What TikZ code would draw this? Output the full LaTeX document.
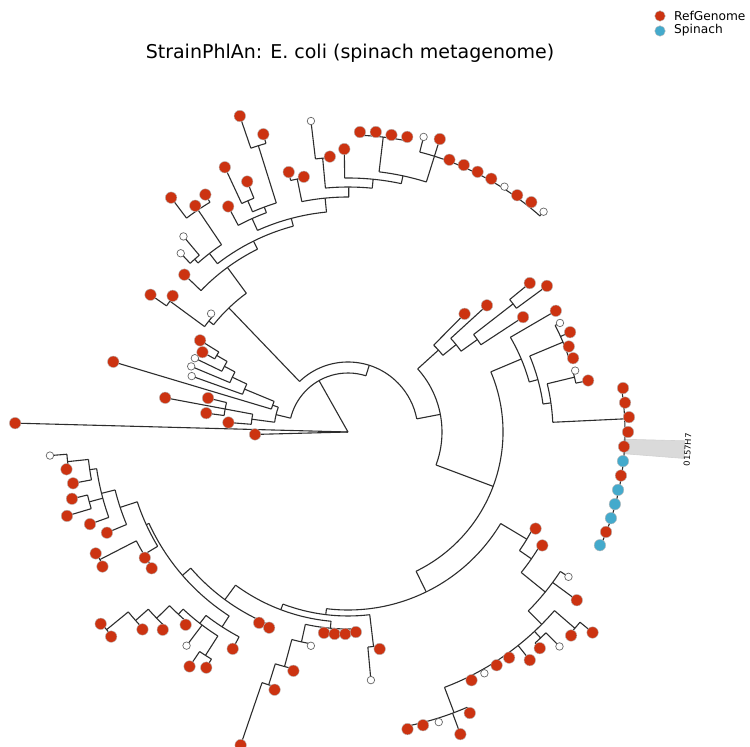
\documentclass[tikz,border=0pt]{standalone}
\usepackage{fontspec}
\setmainfont{DejaVu Sans}
\definecolor{refred}{RGB}{204,51,17}
\definecolor{spblue}{RGB}{68,170,204}
\definecolor{brc}{RGB}{45,45,45}
\definecolor{wedgec}{RGB}{218,218,218}
\pgfdeclarelayer{backlayer}
\pgfdeclarelayer{wedgelayer}
\pgfdeclarelayer{bg}
\pgfsetlayers{backlayer,wedgelayer,bg,main}
\tikzset{
  br/.style={draw=brc, line width=1.1pt},
  rleaf/.style={circle, fill=refred, draw=gray!55, line width=0.4pt, minimum size=11.5pt, inner sep=0pt},
  bleaf/.style={circle, fill=spblue, draw=gray!55, line width=0.4pt, minimum size=11.5pt, inner sep=0pt},
  oleaf/.style={circle, fill=white, draw=gray!80!black, line width=0.7pt, minimum size=7.5pt, inner sep=0pt},
}
\newcommand\angu{3.025}
\newcommand\nd[5]{%
 \begin{pgfonlayer}{bg}
 \draw[br] ({(#1)*\angu}:#2) -- ({(#1)*\angu}:#3);
 \draw[br] ({(#4)*\angu}:#3) arc[start angle={(#4)*\angu}, end angle={(#5)*\angu}, radius=#3];
 \end{pgfonlayer}}
\newcommand\lf[4]{%
 \begin{pgfonlayer}{bg}\draw[br] ({(#2)*\angu}:#3) -- ({(#2)*\angu}:#4);\end{pgfonlayer}
 \node[#1] (leaf#2) at ({(#2)*\angu}:#4) {};}
\begin{document}
\begin{tikzpicture}[x=1pt,y=1pt]
\begin{pgfonlayer}{backlayer}
\fill[white] (0,0) rectangle (750,747);
\end{pgfonlayer}
\useasboundingbox (0,0) rectangle (750,747);
\node[font=\fontsize{19}{22}\selectfont] (title) at (350,694) {StrainPhlAn: E. coli (spinach metagenome)};
\node[rleaf, minimum size=10.5pt] (legr) at (660,731) {};
\node[bleaf, minimum size=10.5pt] (legb) at (660,716) {};
\node[anchor=west, inner sep=0pt, font=\fontsize{12.2}{14}\selectfont] (legrt) at (674,731.5) {RefGenome};
\node[anchor=west, inner sep=0pt, font=\fontsize{12.2}{14}\selectfont] (legbt) at (674,716.5) {Spinach};
\begin{scope}[shift={(348,315)}]
% wedge
\begin{pgfonlayer}{wedgelayer}
\filldraw[fill=wedgec, draw=gray!35, line width=0.6pt] (-1.5:276) -- (-1.5:337) arc[start angle=-1.5, end angle=-4.5, radius=337] -- (-4.5:276) arc[start angle=-4.5, end angle=-1.5, radius=276] -- cycle;
\end{pgfonlayer}
\node[rotate=87, font=\fontsize{8.3}{10}\selectfont, inner sep=0pt] (clade) at (-3:340) {0157H7};
% root
\lf{rleaf}{60}{0}{93}
\lf{rleaf}{59}{0}{333}
\nd{39.47}{0}{59}{55.02}{23.91}
% A1
\nd{55.02}{59}{74}{53.03}{57}
\nd{57}{74}{97}{56}{58}
\nd{56}{97}{125}{55}{57}
\lf{rleaf}{55}{125}{144}
\lf{rleaf}{56}{125}{186}
\lf{rleaf}{57}{125}{143}
\lf{rleaf}{58}{97}{120}
\nd{53.03}{74}{80}{52.06}{54}
\lf{rleaf}{54}{80}{245}
\nd{52.06}{80}{112}{51.125}{53}
\lf{oleaf}{53}{112}{166}
\nd{51.125}{112}{128}{50.25}{52}
\lf{oleaf}{52}{128}{170}
\nd{50.25}{128}{140}{49.5}{51}
\lf{oleaf}{51}{140}{170}
\nd{49.5}{140}{152}{49}{50}
\lf{rleaf}{49}{152}{174}
\lf{rleaf}{50}{152}{166}
% B
\nd{23.91}{59}{70}{44.24}{3.575}
\nd{44.24}{70}{172}{46.75}{41.73}
\nd{46.75}{172}{178}{46}{47.5}
\lf{oleaf}{46}{178}{181}
\nd{47.5}{178}{221}{47}{48}
\lf{rleaf}{47}{221}{222}
\lf{rleaf}{48}{221}{240.5}
\nd{41.73}{172}{204}{45}{38.46}
\lf{rleaf}{45}{204}{227}
\nd{38.46}{204}{213}{42.25}{34.67}
\nd{42.25}{213}{226}{43.5}{41}
\nd{43.5}{226}{231}{43}{44}
\lf{oleaf}{43}{231}{255.6}
\lf{oleaf}{44}{231}{244.8}
\nd{41}{226}{268}{40}{42}
\lf{rleaf}{40}{268}{277}
\lf{rleaf}{41}{268}{273}
\lf{rleaf}{42}{268}{293.6}
\nd{34.67}{213}{221}{37.75}{31.6}
\nd{37.75}{221}{234}{39}{36.5}
\lf{rleaf}{39}{234}{255.4}
\nd{36.5}{234}{240}{37.5}{35.5}
\nd{37.5}{240}{252}{37}{38}
\lf{rleaf}{37}{252}{270}
\lf{rleaf}{38}{252}{292}
\nd{35.5}{240}{300}{35}{36}
\lf{rleaf}{35}{300}{309.6}
\lf{rleaf}{36}{300}{334}
\nd{31.6}{221}{235}{33.5}{29.69}
\nd{33.5}{235}{258}{33}{34}
\lf{rleaf}{33}{258}{259}
\lf{rleaf}{34}{258}{266.6}
\nd{29.69}{235}{245}{31.5}{27.875}
\nd{31.5}{245}{275}{31}{32}
\lf{rleaf}{31}{275}{276}
\lf{oleaf}{32}{275}{313.2}
\nd{27.875}{245}{254}{30}{25.75}
\lf{rleaf}{30}{254}{283}
\nd{25.75}{254}{262}{27.5}{24}
\nd{27.5}{262}{297}{26}{29}
\lf{rleaf}{26}{297}{301}
\lf{rleaf}{27}{297}{300.2}
\lf{rleaf}{28}{297}{301.3}
\lf{rleaf}{29}{297}{300.2}
\nd{24}{262}{289}{25}{16}
\lf{oleaf}{25}{289}{304.6}
\lf{rleaf}{24}{289}{307}
\lf{rleaf}{23}{289}{290.5}
\lf{rleaf}{22}{289}{291}
\lf{rleaf}{21}{289}{290.7}
\lf{rleaf}{20}{289}{291}
\lf{oleaf}{19}{289}{291}
\lf{rleaf}{18}{289}{291}
\lf{rleaf}{17}{289}{294}
\lf{oleaf}{16}{289}{294.6}
% B2
\nd{3.575}{70}{94}{13.94}{-6.79}
\nd{13.94}{94}{122}{15}{12.875}
\lf{rleaf}{15}{122}{166}
\nd{12.875}{122}{139}{14}{11.75}
\lf{rleaf}{14}{139}{188}
\nd{11.75}{139}{159}{12.5}{11}
\nd{12.5}{159}{209}{13}{12}
\lf{rleaf}{13}{209}{235}
\lf{rleaf}{12}{209}{246.8}
\lf{rleaf}{11}{159}{209.4}
\nd{-6.79}{94}{155}{7.55}{-21.13}
\nd{7.55}{155}{188}{10}{5.1}
\lf{rleaf}{10}{188}{240.6}
\nd{5.1}{188}{197}{7.5}{2.7}
\nd{7.5}{197}{233}{9}{6}
\lf{oleaf}{9}{233}{238.4}
\lf{rleaf}{8}{233}{243.5}
\lf{rleaf}{7}{233}{236.8}
\lf{rleaf}{6}{233}{236.9}
\nd{2.7}{197}{205}{4.5}{0.9}
\nd{4.5}{205}{233}{5}{4}
\lf{oleaf}{5}{233}{235.3}
\lf{rleaf}{4}{233}{245.6}
\nd{0.9}{205}{277}{3}{-8}
\lf{rleaf}{3}{277}{278.5}
\lf{rleaf}{2}{277}{278.6}
\lf{rleaf}{1}{277}{281.4}
\lf{rleaf}{0}{277}{280}
\lf{rleaf}{-1}{277}{276.4}
\lf{bleaf}{-2}{277}{276.5}
\lf{rleaf}{-3}{277}{276.4}
\lf{bleaf}{-4}{277}{276.2}
\lf{bleaf}{-5}{277}{276.5}
\lf{bleaf}{-6}{277}{276.7}
\lf{rleaf}{-7}{277}{276.7}
\lf{bleaf}{-8}{277}{276.2}
% D2 (bottom right)
\nd{97.87}{155}{178}{108.78}{86.96}
\nd{108.78}{178}{208.5}{110}{107.55}
\lf{rleaf}{110}{208.5}{211}
\nd{107.55}{208.5}{223}{109}{106.1}
\lf{rleaf}{109}{223}{225}
\nd{106.1}{223}{254}{108}{104.2}
\lf{oleaf}{108}{254}{263.8}
\lf{rleaf}{107}{254}{284}
\nd{104.2}{254}{273}{105.5}{96.1}
\nd{105.5}{273}{300}{106}{105}
\lf{rleaf}{106}{300}{316.3}
\lf{rleaf}{105}{300}{302}
\nd{103.5}{273}{282}{104}{103}
\lf{oleaf}{104}{282}{301.2}
\lf{rleaf}{103}{282}{289}
\lf{rleaf}{102}{273}{291.7}
\lf{rleaf}{101}{273}{277.3}
\lf{rleaf}{100}{273}{276.6}
\lf{oleaf}{99}{273}{277.2}
\lf{rleaf}{98}{273}{277.3}
\nd{96.1}{273}{300}{97}{93}
\lf{rleaf}{97}{300}{306.3}
\lf{rleaf}{96}{300}{322.4}
\lf{oleaf}{95}{300}{304}
\lf{rleaf}{94}{300}{302.7}
\lf{rleaf}{93}{300}{303}
% D2b (bottom)
\nd{86.96}{178}{184}{82.41}{91.5}
\nd{91.5}{184}{216}{91}{92}
\lf{rleaf}{92}{216}{219.3}
\lf{oleaf}{91}{216}{249.2}
\nd{82.41}{184}{190}{77.26}{87.56}
\nd{87.56}{190}{197}{85.125}{90}
\lf{rleaf}{87}{197}{202.3}
\lf{rleaf}{88}{197}{202.4}
\lf{rleaf}{89}{197}{202}
\lf{rleaf}{90}{197}{200.2}
\nd{85.125}{197}{215}{84.25}{86}
\lf{oleaf}{86}{215}{217}
\nd{84.25}{215}{243}{83.5}{85}
\lf{rleaf}{85}{243}{245}
\nd{83.5}{243}{265}{83}{84}
\lf{rleaf}{84}{265}{268}
\lf{rleaf}{83}{265}{331}
\nd{77.26}{190}{208}{73.02}{81.5}
\nd{81.5}{208}{209}{81}{82}
\lf{rleaf}{81}{209}{210.5}
\lf{rleaf}{82}{209}{211}
\nd{73.02}{208}{219}{67.66}{78.39}
\nd{78.39}{219}{232}{76.78}{80}
\lf{rleaf}{80}{232}{245.6}
\nd{76.78}{232}{242}{75.06}{78.5}
\lf{oleaf}{77}{242}{267.8}
\nd{78.5}{242}{265}{78}{79}
\lf{rleaf}{78}{265}{283}
\lf{rleaf}{79}{265}{275}
\nd{75.06}{242}{249}{74.125}{76}
\lf{rleaf}{76}{249}{252}
\nd{74.125}{249}{267}{73.25}{75}
\lf{rleaf}{75}{267}{271}
\nd{73.25}{267}{284}{72.5}{74}
\lf{rleaf}{74}{284}{285}
\nd{72.5}{284}{312}{72}{73}
\lf{rleaf}{72}{312}{313}
\lf{rleaf}{73}{312}{313}
\nd{67.66}{219}{222}{65.56}{69.75}
\nd{69.75}{222}{238}{68.5}{71}
\lf{rleaf}{70}{238}{239}
\lf{rleaf}{71}{238}{239}
\nd{68.5}{238}{279}{68}{69}
\lf{rleaf}{68}{279}{280}
\lf{rleaf}{69}{279}{280}
\nd{65.56}{222}{240}{64.125}{67}
\lf{rleaf}{67}{240}{261.3}
\nd{64.125}{240}{254}{62.25}{66}
\lf{rleaf}{66}{254}{274}
\nd{64.5}{254}{268}{64}{65}
\lf{rleaf}{64}{268}{284}
\lf{rleaf}{65}{268}{293.3}
\nd{62.25}{254}{261}{61.5}{63}
\lf{rleaf}{63}{261}{279.7}
\nd{61.5}{261}{282}{61}{62}
\lf{oleaf}{61}{282}{299}
\lf{rleaf}{62}{282}{284}
\end{scope}
\end{tikzpicture}
\end{document}
